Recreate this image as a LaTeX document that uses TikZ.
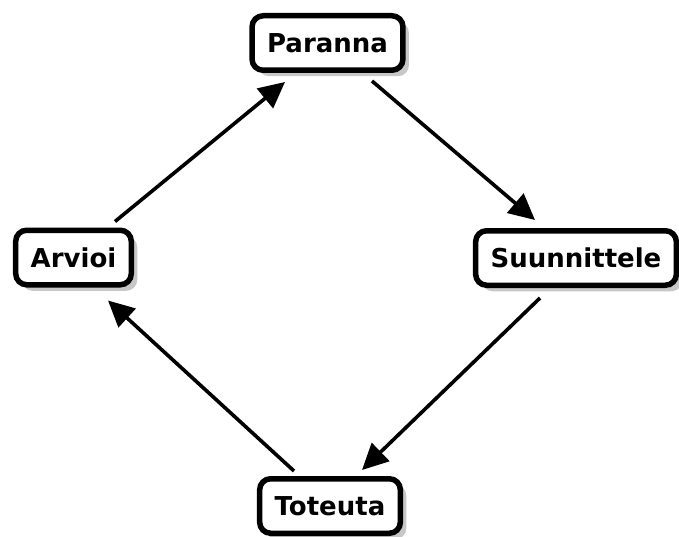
\documentclass[tikz,border=0pt]{standalone}
\usepackage{fontspec}
\setmainfont{DejaVu Sans}
\usetikzlibrary{arrows.meta,shadows}

\begin{document}
\begin{tikzpicture}[x=1pt, y=-1pt,
	stage/.style={draw=black, line width=5.5pt, rounded corners=11pt, fill=white, inner xsep=15pt, minimum height=54.5pt, font=\fontsize{26}{31}\selectfont\bfseries, drop shadow={shadow xshift=6pt, shadow yshift=-6pt, fill=black!22, opacity=1}},
	flow/.style={line width=3.6pt, -{Triangle[length=26pt, width=25pt]}}]
			%%%%% START %%%%%
			
			\useasboundingbox (0, 0) rectangle (679, 537);
			
			\node[stage] (paranna) at (327.5, 43) {Paranna};
			\node[stage] (suunnittele) at (576, 258) {Suunnittele};
			\node[stage] (toteuta) at (330, 506) {Toteuta};
			\node[stage] (arvioi) at (73.5, 257.5) {Arvioi};
			
			\draw[flow] ([xshift=41.5pt, yshift=6pt]arvioi.north) -- ([xshift=-42.5pt, yshift=-9pt]paranna.south);
			\draw[flow] ([xshift=44.5pt, yshift=-8pt]paranna.south) -- ([xshift=-41pt, yshift=8pt]suunnittele.north);
			\draw[flow] ([xshift=-36pt, yshift=-10pt]suunnittele.south) -- ([xshift=32pt, yshift=6pt]toteuta.north);
			\draw[flow] ([xshift=-36pt, yshift=5pt]toteuta.north) -- ([xshift=34.5pt, yshift=-13pt]arvioi.south);
			
			%%%%% END %%%%%
\end{tikzpicture}
\end{document}
